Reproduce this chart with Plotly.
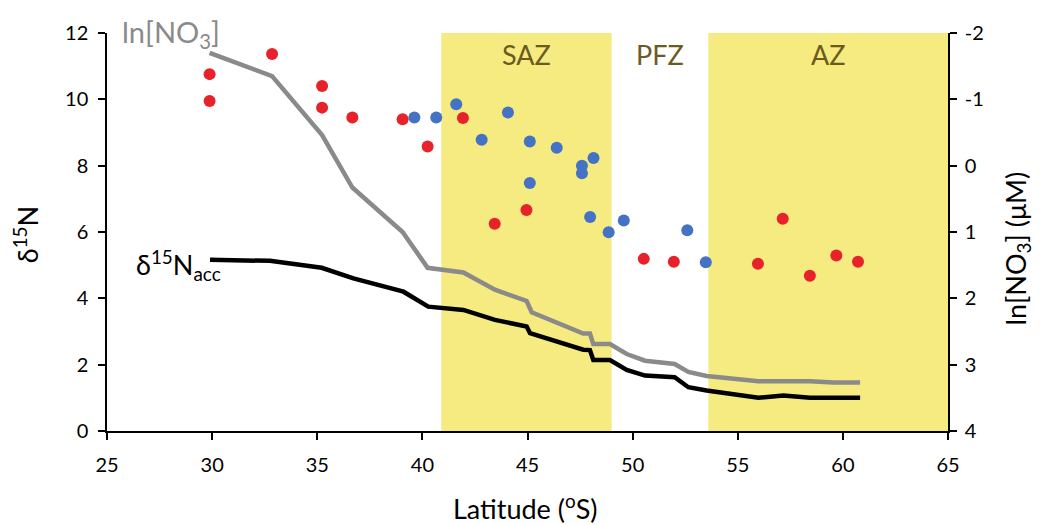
import plotly.graph_objects as go

# ---- data ----
red_lat = [29.88, 29.88, 32.85, 35.23, 35.23, 36.67, 39.06, 40.25, 41.93, 43.44,
           44.95, 50.53, 51.96, 55.96, 57.14, 58.43, 59.69, 60.72]
red_d15n = [10.76, 9.95, 11.37, 10.40, 9.75, 9.45, 9.40, 8.58, 9.44, 6.25,
            6.66, 5.19, 5.10, 5.04, 6.40, 4.68, 5.29, 5.10]

blue_lat = [39.62, 40.66, 41.61, 44.07, 42.82, 45.11, 46.39, 48.14, 47.59, 47.59,
            45.11, 47.98, 49.58, 48.86, 52.60, 53.48]
blue_d15n = [9.45, 9.45, 9.85, 9.60, 8.78, 8.73, 8.54, 8.23, 8.00, 7.77,
             7.48, 6.45, 6.35, 5.99, 6.05, 5.09]

acc_lat = [29.9, 32.75, 35.21, 36.72, 39.1, 40.28, 41.95, 43.45, 44.96, 45.12,
           47.65, 47.97, 48.13, 48.92, 49.72, 50.59, 52.0, 52.65, 53.52, 55.98,
           57.17, 58.44, 60.82]
acc_d15n = [5.16, 5.13, 4.92, 4.60, 4.20, 3.75, 3.65, 3.35, 3.15, 2.95,
            2.45, 2.44, 2.14, 2.14, 1.84, 1.67, 1.62, 1.32, 1.22, 1.00,
            1.07, 1.00, 1.00]

ln_lat = [29.88, 32.85, 35.23, 36.67, 39.06, 40.25, 41.95, 43.45, 44.96, 45.2,
          47.65, 47.97, 48.13, 48.92, 49.72, 50.59, 52.0, 52.65, 53.52, 55.98,
          58.44, 59.55, 60.82]
ln_no3 = [-1.70, -1.35, -0.46, 0.33, 1.00, 1.54, 1.61, 1.87, 2.04, 2.21,
          2.53, 2.53, 2.69, 2.69, 2.84, 2.94, 2.99, 3.11, 3.17, 3.25,
          3.25, 3.27, 3.27]

zone_names = ["SAZ", "PFZ", "AZ"]
zone_bounds = [(40.9, 49.0), (49.0, 53.6), (53.6, 65.0)]
zone_shaded = [True, False, True]

x_ticks = [25, 30, 35, 40, 45, 50, 55, 60, 65]
y_ticks = [0, 2, 4, 6, 8, 10, 12]
y2_ticks = [-2, -1, 0, 1, 2, 3, 4]
y2_ticktext = ["-2", "-1", "0", "1", "2", "3", "4"]

FONT = "Lato"
YELLOW = "#F5EB80"
OLIVE = "#6B5B1F"

fig = go.Figure()

for (x0, x1), shaded in zip(zone_bounds, zone_shaded):
    if shaded:
        fig.add_shape(type="rect", xref="x", yref="paper", x0=x0, x1=x1, y0=0, y1=1,
                      fillcolor=YELLOW, line=dict(width=0), layer="below")

for name, (x0, x1) in zip(zone_names, zone_bounds):
    fig.add_annotation(x=(x0 + x1) / 2, y=11.35, xref="x", yref="y", text=name,
                       showarrow=False, font=dict(family=FONT, size=27, color=OLIVE))

fig.add_trace(go.Scatter(x=ln_lat, y=ln_no3, yaxis="y2", mode="lines",
                         line=dict(color="#8A8A8A", width=4.5), showlegend=False))
fig.add_trace(go.Scatter(x=acc_lat, y=acc_d15n, mode="lines",
                         line=dict(color="black", width=4.5), showlegend=False))
fig.add_trace(go.Scatter(x=red_lat, y=red_d15n, mode="markers",
                         marker=dict(color="#E8222A", size=12), showlegend=False))
fig.add_trace(go.Scatter(x=blue_lat, y=blue_d15n, mode="markers",
                         marker=dict(color="#4472C4", size=12), showlegend=False))

fig.add_annotation(x=0.016, y=1.0, xref="paper", yref="paper", xanchor="left", yanchor="middle",
                   text="ln[NO<sub>3</sub>]", showarrow=False,
                   font=dict(family=FONT, size=29, color="#8A8A8A"))
fig.add_annotation(x=30.5, y=5.0, xref="x", yref="y", xanchor="right", yanchor="middle",
                   text="δ<sup>15</sup>N<sub>acc</sub>", showarrow=False,
                   font=dict(family=FONT, size=27, color="black"))

fig.add_annotation(x=-0.12, y=0.492, xref="paper", yref="paper", textangle=-90,
                   text="δ<sup>15</sup>N", showarrow=False,
                   font=dict(family=FONT, size=27, color="black"))
fig.add_annotation(x=1.107, y=0.46, xref="paper", yref="paper", textangle=-90,
                   text="ln[NO<sub>3</sub>] (μM)", showarrow=False,
                   font=dict(family=FONT, size=27, color="black"))
fig.add_annotation(x=0.498, y=-0.24, xref="paper", yref="paper",
                   text="Latitude (<sup>o</sup>S)", showarrow=False,
                   font=dict(family=FONT, size=27, color="black"))

axis_common = dict(showgrid=False, zeroline=False, showline=True, linecolor="black",
                   linewidth=1.5, ticks="outside", ticklen=7, tickcolor="black",
                   tickwidth=1.5, tickfont=dict(family=FONT, size=20, color="black"))

fig.update_layout(
    width=1041, height=525,
    margin=dict(l=107, r=93, t=33, b=94),
    plot_bgcolor="white", paper_bgcolor="white",
    xaxis=dict(range=[25, 65], tickvals=x_ticks, ticklabelstandoff=8, **axis_common),
    yaxis=dict(range=[0, 12], tickvals=y_ticks, ticklabelstandoff=6, **axis_common),
    yaxis2=dict(range=[4, -2], tickvals=y2_ticks, ticktext=y2_ticktext,
                overlaying="y", side="right", ticklabelstandoff=4, **axis_common),
    font=dict(family=FONT),
)

fig.write_html("out.html")
